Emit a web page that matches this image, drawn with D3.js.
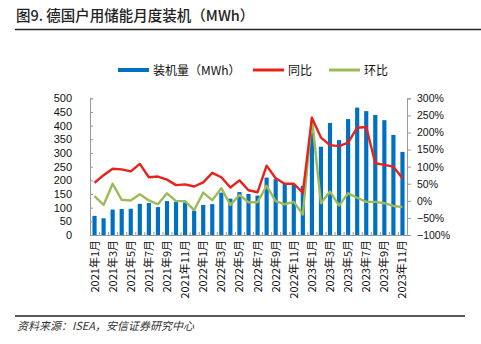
<!DOCTYPE html>
<html><head><meta charset="utf-8">
<script src="https://cdn.jsdelivr.net/npm/d3@7"></script>
<style>
body{margin:0;background:#fff;}
svg{display:block;}
</style></head>
<body><svg id="c" width="481" height="344"></svg>
<script>
const months = ["2021年1月","2021年2月","2021年3月","2021年4月","2021年5月","2021年6月","2021年7月","2021年8月","2021年9月","2021年10月","2021年11月","2021年12月",
"2022年1月","2022年2月","2022年3月","2022年4月","2022年5月","2022年6月","2022年7月","2022年8月","2022年9月","2022年10月","2022年11月","2022年12月",
"2023年1月","2023年2月","2023年3月","2023年4月","2023年5月","2023年6月","2023年7月","2023年8月","2023年9月","2023年10月","2023年11月"];
const installs = [70,61,93,95,96,114,117,102,124,121,119,89,110,113,155,133,157,150,144,210,204,188,185,180,375,323,410,347,424,466,453,439,420,366,304];
const yoy = [53,75,94,92,86,108,69,71,62,46,48,42,54,82,69,39,60,31,25,103,66,50,50,24,243,185,163,160,170,214,216,110,105,100,66];
const mom = [14,-12,50,3,1,19,1,-10,22,-1,-1,-27,24,2,37,-12,17,-4,-4,44,-1,-10,-3,-40,243,-7,27,-14,22,9,-3,-3,-7,-15,-18];
const leftTicks = [0,50,100,150,200,250,300,350,400,450,500];
const rightTicks = [-100,-50,0,50,100,150,200,250,300];
const title = "图9. 德国户用储能月度装机（MWh）";
const source = "资料来源：ISEA，安信证券研究中心";
const legendNames = ["装机量（MWh）","同比","环比"];

const svg = d3.select("#c");
const cjk = "'Noto Sans CJK SC','Noto Sans',sans-serif";
const num = "'Liberation Sans',Arial,sans-serif";
const blue="#0070C0", red="#E8221B", green="#9BBB59";

// title
svg.append("text").attr("x",16).attr("y",21).attr("font-family",cjk).attr("font-size",14.5).attr("font-weight",500).attr("fill","#222").text(title);
svg.append("line").attr("x1",15).attr("x2",481).attr("y1",29.5).attr("y2",29.5).attr("stroke","#222").attr("stroke-width",1.6);

const L=90, R=407, plotTop=98.3, bot=235;
const x = d3.scaleBand().domain(months).range([L,R]).padding(0);
const yL = d3.scaleLinear().domain([0,500]).range([bot,plotTop]);
const yR = d3.scaleLinear().domain([-100,300]).range([bot,plotTop]);
const cx = d => x(d)+x.bandwidth()/2;
const bw = x.bandwidth()*0.46;

// bars
svg.append("g").selectAll("rect").data(months).join("rect")
  .attr("x",(d)=>cx(d)-bw/2).attr("width",bw)
  .attr("y",(d,i)=>yL(installs[i])).attr("height",(d,i)=>bot-yL(installs[i]))
  .attr("fill",blue);

// axes
const axL = svg.append("g").attr("transform",`translate(${L},0)`).call(d3.axisLeft(yL).tickValues(leftTicks).tickSize(-3).tickPadding(18));
const axR = svg.append("g").attr("transform",`translate(${R},0)`).call(d3.axisRight(yR).tickValues(rightTicks).tickSize(4).tickPadding(6).tickFormat(d=>d3.format("")(d)+"%"));
[axL,axR].forEach(a=>{
  a.select(".domain").attr("stroke","#999");
  a.selectAll(".tick line").attr("stroke","#999");
  a.selectAll("text").attr("font-family",num).attr("font-size",11).attr("fill","#111");
});
axR.selectAll("text").attr("font-size",10.5);

// bottom axis
svg.append("line").attr("x1",L).attr("x2",R).attr("y1",bot+0.5).attr("y2",bot+0.5).attr("stroke","#999");
const bounds = months.map(d=>x(d)).concat([R]);
svg.append("g").selectAll("line").data(bounds).join("line")
  .attr("x1",d=>d+0.5).attr("x2",d=>d+0.5).attr("y1",bot).attr("y2",bot-3).attr("stroke","#999");
svg.append("g").selectAll("text").data(months.filter((d,i)=>i%2===0)).join("text")
  .attr("transform",d=>`translate(${cx(d)+4},${bot+5}) rotate(-90)`)
  .attr("text-anchor","end").attr("font-family",cjk).attr("font-size",11).attr("fill","#111")
  .text(d=>d);

// lines
const lineR = d3.line().x((d,i)=>cx(months[i])).y(d=>yR(d));
svg.append("path").datum(mom).attr("d",lineR).attr("fill","none").attr("stroke",green).attr("stroke-width",2.4).attr("stroke-linejoin","round");
svg.append("path").datum(yoy).attr("d",lineR).attr("fill","none").attr("stroke",red).attr("stroke-width",2.4).attr("stroke-linejoin","round");

// legend
const lg = svg.append("g").attr("font-family",cjk).attr("font-size",12).attr("fill","#111");
const legendItems = [{x:118,c:blue,h:4},{x:253,c:red,h:3},{x:329,c:green,h:3}];
legendItems.forEach((it,i)=>{
  lg.append("rect").attr("x",it.x).attr("y",70-it.h/2).attr("width",31).attr("height",it.h).attr("fill",it.c);
  lg.append("text").attr("x",it.x+35).attr("y",74.5).text(legendNames[i]);
});

// bottom line + source
svg.append("line").attr("x1",15).attr("x2",465).attr("y1",316).attr("y2",316).attr("stroke","#222").attr("stroke-width",1.5);
svg.append("text").attr("x",17).attr("y",330).attr("font-family",cjk).attr("font-size",11).attr("font-style","italic").attr("fill","#333").text(source);
</script></body></html>
